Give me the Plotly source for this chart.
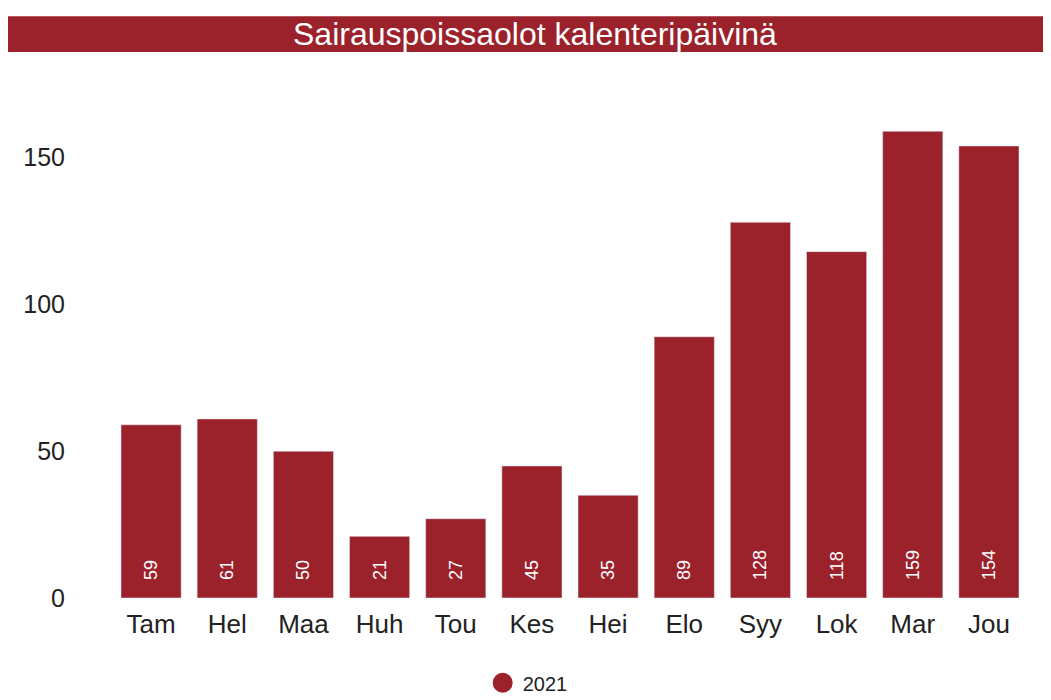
import plotly.graph_objects as go

months = ["Tam", "Hel", "Maa", "Huh", "Tou", "Kes", "Hei", "Elo", "Syy", "Lok", "Mar", "Jou"]
values_2021 = [59, 61, 50, 21, 27, 45, 35, 89, 128, 118, 159, 154]
series_name = "2021"
title_text = "Sairauspoissaolot kalenteripäivinä"
y_ticks = [0, 50, 100, 150]

BAR = "#9B212B"
FONT = "Liberation Sans, Arial, sans-serif"
PAD = "\u00a0\u00a0\u00a0"

fig = go.Figure()
fig.add_trace(go.Bar(
    x=months, y=values_2021, marker_color=BAR, showlegend=False,
    text=[PAD + str(v) for v in values_2021], textposition="inside",
    insidetextanchor="start", textangle=-90,
    textfont=dict(color="white", size=18, family=FONT),
    hoverinfo="x+y",
))
fig.add_trace(go.Scatter(
    x=[None], y=[None], mode="markers", name=series_name,
    marker=dict(color=BAR, size=18, symbol="circle", line=dict(color=BAR, width=4)),
))

fig.update_layout(
    width=1051, height=700,
    margin=dict(l=105, r=32, t=91, b=110),
    paper_bgcolor="white", plot_bgcolor="white",
    font=dict(family=FONT, color="#222222"),
    bargap=0.21,
    showlegend=True,
    legend=dict(orientation="h", x=0.4537, xanchor="center",
                yref="container", y=0.036, yanchor="middle",
                font=dict(size=20, color="#222222"), itemwidth=30),
    shapes=[dict(type="rect", xref="paper", yref="paper",
                 x0=-0.1149, x1=1.06, y0=1.094, y1=1.166,
                 fillcolor=BAR, line=dict(width=0), layer="below")],
    annotations=[dict(text=title_text, xref="paper", yref="paper", x=0.4617, y=1.13,
                      xanchor="center", yanchor="middle", showarrow=False,
                      font=dict(size=32, color="white", family=FONT))],
)
fig.update_xaxes(showgrid=False, showline=False, zeroline=False, automargin=False,
                 tickfont=dict(size=26, color="#222222"), ticks="", ticklabelstandoff=8)
fig.update_yaxes(range=[0, 170], tickvals=y_ticks, showgrid=False, zeroline=False,
                 showline=False, automargin=False, tickfont=dict(size=25, color="#222222"),
                 ticklabelstandoff=47)

fig.write_html("out.html")
